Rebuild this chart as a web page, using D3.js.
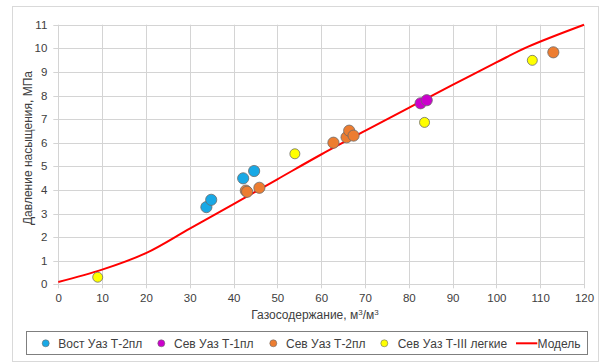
<!DOCTYPE html>
<html>
<head>
<meta charset="utf-8">
<script src="https://cdn.jsdelivr.net/npm/d3@7"></script>
<style>
  html, body { margin: 0; padding: 0; background: #fff; }
  svg { display: block; font-family: Arial, "Liberation Sans", sans-serif; }
</style>
</head>
<body>
<svg id="chart" width="601" height="363"></svg>
<script>
// Saturation pressure vs. gas content by field/layer, with model curve
const vostT2x = [33.8, 34.9, 42.2, 44.7];
const vostT2y = [3.27, 3.58, 4.49, 4.80];

const sevT1x = [82.7, 84.1];
const sevT1y = [7.67, 7.80];

const sevT2x = [42.8, 43.1, 45.9, 62.8, 65.8, 66.4, 67.4, 113.0];
const sevT2y = [3.97, 3.92, 4.09, 6.00, 6.23, 6.51, 6.30, 9.83];

const sevT3x = [9.0, 54.0, 83.6, 108.2];
const sevT3y = [0.30, 5.53, 6.86, 9.49];

const modelX = [0, 10, 20, 30, 40, 50, 60, 70, 80, 90, 100, 107, 120];
const modelY = [0.10, 0.62, 1.32, 2.36, 3.40, 4.45, 5.50, 6.50, 7.48, 8.45, 9.40, 10.05, 11.0];

const xTicks = [0, 10, 20, 30, 40, 50, 60, 70, 80, 90, 100, 110, 120];
const yTicks = [0, 1, 2, 3, 4, 5, 6, 7, 8, 9, 10, 11];

const seriesNames = ["Вост Уаз Т-2пл", "Сев Уаз Т-1пл", "Сев Уаз Т-2пл", "Сев Уаз Т-III легкие", "Модель"];
const seriesColors = ["#18a9e6", "#cc00cc", "#ed7d31", "#ffff00", "#ff0000"];

const svg = d3.select("#chart");

// outer chart frame
svg.append("rect")
  .attr("x", 12.5).attr("y", 6.5).attr("width", 586).attr("height", 355)
  .attr("fill", "#fff").attr("stroke", "#d9d9d9");

const x = d3.scaleLinear().domain([0, 120]).range([58.3, 584]);
const y = d3.scaleLinear().domain([0, 11]).range([284.3, 24.7]);

// gridlines
const grid = svg.append("g");
grid.selectAll("line.h").data(yTicks).join("line")
  .attr("x1", x(0) - 5).attr("x2", x(120))
  .attr("y1", d => Math.round(y(d)) + 0.5).attr("y2", d => Math.round(y(d)) + 0.5)
  .attr("stroke", "#d4d4d4").attr("stroke-width", 1);
grid.selectAll("line.v").data(xTicks).join("line")
  .attr("y1", y(0) + 4).attr("y2", y(11))
  .attr("x1", d => Math.round(x(d)) + 0.5).attr("x2", d => Math.round(x(d)) + 0.5)
  .attr("stroke", "#d4d4d4").attr("stroke-width", 1);

// axes (labels only; lines come from the grid)
const xAxis = svg.append("g")
  .attr("transform", `translate(0,${y(0)})`)
  .call(d3.axisBottom(x).tickValues(xTicks).tickSize(0).tickPadding(10));
const yAxis = svg.append("g")
  .attr("transform", `translate(${x(0)},0)`)
  .call(d3.axisLeft(y).tickValues(yTicks).tickSize(0).tickPadding(11));
[xAxis, yAxis].forEach(a => {
  a.select(".domain").remove();
  a.selectAll("text").attr("fill", "#404040").style("font-size", "11.5px").style("font-family", "Arial, 'Liberation Sans', sans-serif");
});

// axis titles
svg.append("text")
  .attr("x", 315).attr("y", 318.5)
  .attr("text-anchor", "middle")
  .attr("fill", "#404040").style("font-size", "12px")
  .html('Газосодержание, м<tspan dy="-4" font-size="8">3</tspan><tspan dy="4">/м</tspan><tspan dy="-4" font-size="8">3</tspan>');

svg.append("text")
  .attr("transform", `translate(32,148) rotate(-90)`)
  .attr("text-anchor", "middle")
  .attr("fill", "#404040").style("font-size", "12px")
  .text("Давление насыщения, МПа");

// model curve
const modelPts = modelX.map((v, i) => [v, modelY[i]]);
svg.append("path")
  .datum(modelPts)
  .attr("fill", "none")
  .attr("stroke", seriesColors[4])
  .attr("stroke-width", 2)
  .attr("d", d3.line().x(d => x(d[0])).y(d => y(d[1])).curve(d3.curveCatmullRom.alpha(0.5)));

// scatter series
const scatter = [
  [vostT2x, vostT2y, 5.6],
  [sevT1x, sevT1y, 5.6],
  [sevT2x, sevT2y, 5.6],
  [sevT3x, sevT3y, 5.0]
];
scatter.forEach(([xs, ys, r], si) => {
  svg.append("g").selectAll("circle")
    .data(xs.map((v, i) => [v, ys[i]]))
    .join("circle")
    .attr("cx", d => x(d[0])).attr("cy", d => y(d[1]))
    .attr("r", r)
    .attr("fill", seriesColors[si])
    .attr("stroke", "#6b6b6b").attr("stroke-width", 0.8);
});

// legend
const legend = svg.append("g");
legend.append("rect")
  .attr("x", 26.5).attr("y", 331.5).attr("width", 561).attr("height", 23)
  .attr("fill", "#fff").attr("stroke", "#7f7f7f");

const legendMarkX = [45.7, 161.3, 273.3, 384.3];
const legendTextX = [58.3, 174, 286, 397.7];
const ly = 343.3;
legendMarkX.forEach((mx, i) => {
  legend.append("circle")
    .attr("cx", mx).attr("cy", ly).attr("r", 3.5)
    .attr("fill", seriesColors[i]).attr("stroke", "#6b6b6b").attr("stroke-width", 0.6);
  legend.append("text")
    .attr("x", legendTextX[i]).attr("y", ly + 4.3)
    .attr("fill", "#404040").style("font-size", "12px")
    .text(seriesNames[i]);
});
legend.append("line")
  .attr("x1", 516).attr("x2", 537.3).attr("y1", ly).attr("y2", ly)
  .attr("stroke", seriesColors[4]).attr("stroke-width", 2);
legend.append("text")
  .attr("x", 537.5).attr("y", ly + 4.3)
  .attr("fill", "#404040").style("font-size", "12px")
  .text(seriesNames[4]);
</script>
</body>
</html>
